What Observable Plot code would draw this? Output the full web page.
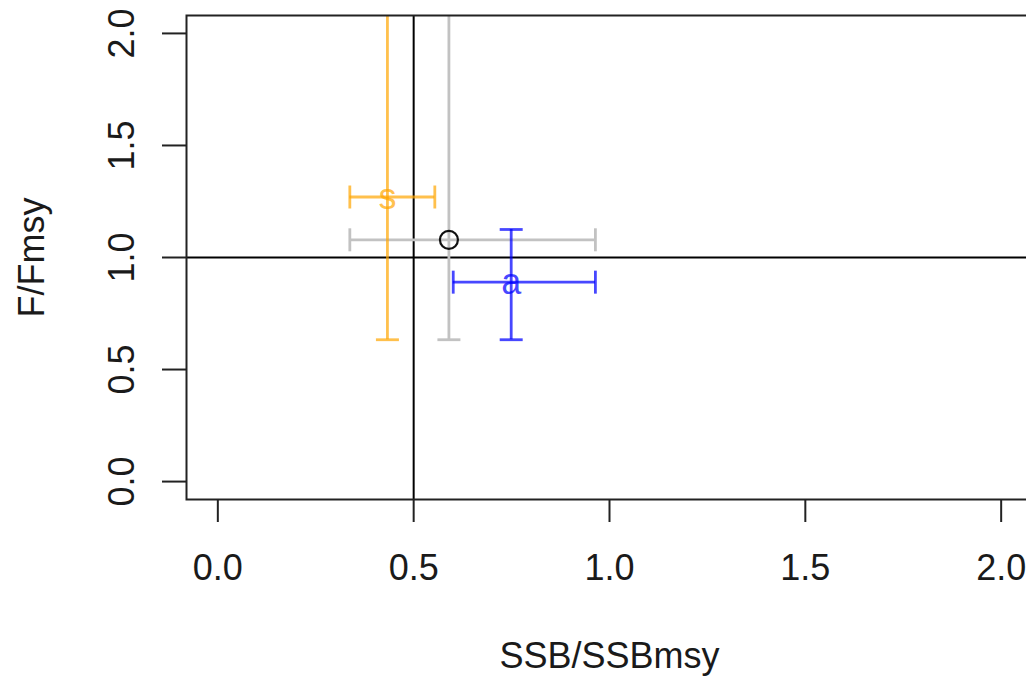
<!DOCTYPE html>
<html><head><meta charset="utf-8">
<script src="https://cdn.jsdelivr.net/npm/d3@7"></script>
<script src="https://cdn.jsdelivr.net/npm/@observablehq/plot@0.6"></script>
<style>html,body{margin:0;padding:0;overflow:hidden;background:#fff} #chart svg{max-width:none !important;height:679px !important;display:block}</style>
</head><body><div id="chart"></div>
<script>
// Data
const series = ["base", "s", "a"];
const pointLabels = ["", "s", "a"];
const ssb = [0.590, 0.433, 0.749];
const ssbLow = [0.337, 0.337, 0.601];
const ssbHigh = [0.964, 0.554, 0.964];
const fRatio = [1.079, 1.270, 0.890];
const fLow = [0.633, 0.633, 0.633];
const fHigh = [2.6, 2.6, 1.125];   // upper ends of grey and orange run off the top of the plot
const xTicks = [0, 0.5, 1, 1.5, 2];
const yTicks = [0, 0.5, 1, 1.5, 2];
const refX = [0.5];
const refY = [1.0];
const xTitle = "SSB/SSBmsy";
const yTitle = "F/Fmsy";

const rows = series.map((s, i) => ({
  series: s, label: pointLabels[i],
  x: ssb[i], xlo: ssbLow[i], xhi: ssbHigh[i],
  y: fRatio[i], ylo: fLow[i], yhi: fHigh[i]
}));

const fmt = d3.format(".1f");
const vbar = {draw(ctx, size) { const r = Math.sqrt(size / Math.PI); ctx.moveTo(0, -r); ctx.lineTo(0, r); }};
const hbar = {draw(ctx, size) { const r = Math.sqrt(size / Math.PI); ctx.moveTo(-r, 0); ctx.lineTo(r, 0); }};

const FS = 36;
const SW = 2.8;
const CAP = 11.5;

const chart = Plot.plot({
  width: 1033,
  height: 679,
  marginLeft: 186,
  marginRight: 1,
  marginTop: 15,
  marginBottom: 180,
  style: {fontFamily: "'Liberation Sans', Arial, Helvetica, sans-serif", background: "#fff"},
  x: {domain: [-0.08, 2.08], label: null},
  y: {domain: [-0.08, 2.08], label: null},
  color: {domain: series, range: ["#c2c2c2", "rgba(255,165,0,0.7)", "rgba(0,0,255,0.72)"]},
  marks: [
    Plot.ruleX(refX, {x: d => d, stroke: "black", strokeWidth: 2}),
    Plot.ruleY(refY, {y: d => d, stroke: "black", strokeWidth: 2}),
    Plot.ruleY(rows, {y: "y", x1: "xlo", x2: "xhi", stroke: "series", strokeWidth: SW, clip: true}),
    Plot.ruleX(rows, {x: "x", y1: "ylo", y2: "yhi", stroke: "series", strokeWidth: SW, clip: true}),
    Plot.dot(rows, {x: "xlo", y: "y", r: CAP, symbol: vbar, stroke: "series", fill: "none", strokeWidth: SW, clip: true}),
    Plot.dot(rows, {x: "xhi", y: "y", r: CAP, symbol: vbar, stroke: "series", fill: "none", strokeWidth: SW, clip: true}),
    Plot.dot(rows, {x: "x", y: "ylo", r: CAP, symbol: hbar, stroke: "series", fill: "none", strokeWidth: SW, clip: true}),
    Plot.dot(rows, {x: "x", y: "yhi", r: CAP, symbol: hbar, stroke: "series", fill: "none", strokeWidth: SW, clip: true}),
    Plot.dot(rows.filter(d => !d.label), {x: "x", y: "y", r: 9, stroke: "#111", strokeWidth: 2.2, fill: "none"}),
    Plot.text(rows.filter(d => d.label), {x: "x", y: "y", text: "label", fill: "series", fontSize: FS, textAnchor: "middle", lineAnchor: "middle"}),
    Plot.frame({stroke: "#222", strokeWidth: 2}),
    Plot.axisX(xTicks, {anchor: "bottom", tickSize: 23, stroke: "#222", strokeWidth: 2, fill: "none", label: null}),
    Plot.axisY(yTicks, {anchor: "left", tickSize: 24, stroke: "#222", strokeWidth: 2, fill: "none", label: null}),
    Plot.text(xTicks, {x: d => d, frameAnchor: "bottom", dy: 80, lineAnchor: "bottom", textAnchor: "middle", text: d => fmt(d), fontSize: FS, fill: "#1a1a1a"}),
    Plot.text(yTicks, {y: d => d, frameAnchor: "left", dx: -53, rotate: -90, textAnchor: "middle", lineAnchor: "bottom", text: d => fmt(d), fontSize: FS, fill: "#1a1a1a"}),
    Plot.text([xTitle], {frameAnchor: "bottom", dy: 168, lineAnchor: "bottom", textAnchor: "middle", text: d => d, fontSize: FS, fill: "#1a1a1a"}),
    Plot.text([yTitle], {frameAnchor: "left", dx: -143, rotate: -90, lineAnchor: "bottom", textAnchor: "middle", text: d => d, fontSize: FS, fill: "#1a1a1a"})
  ]
});
document.getElementById("chart").appendChild(chart);
</script>
</body></html>
